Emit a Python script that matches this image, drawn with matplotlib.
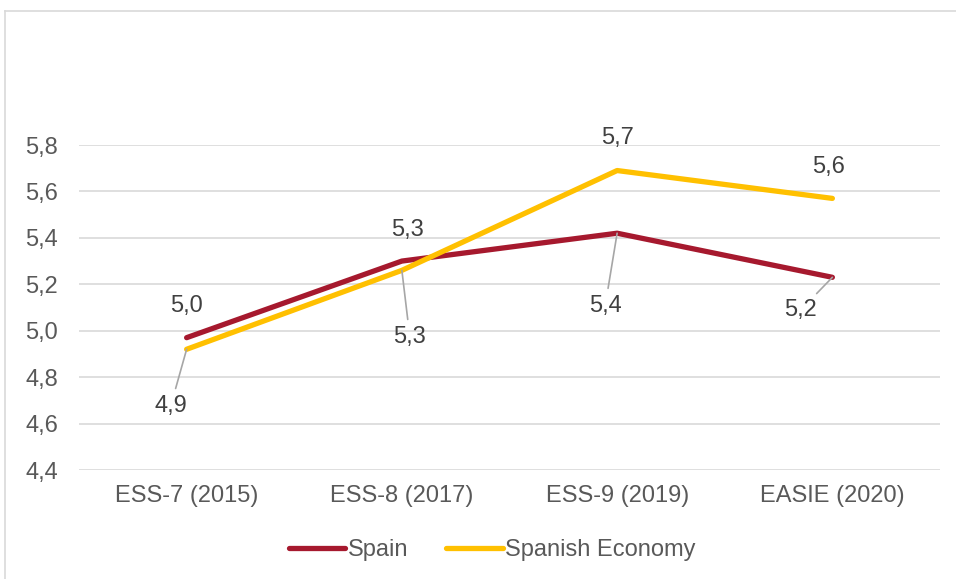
import matplotlib
matplotlib.use('Agg')
import matplotlib.pyplot as plt
from matplotlib.lines import Line2D

# data
categories = ['ESS-7 (2015)', 'ESS-8 (2017)', 'ESS-9 (2019)', 'EASIE (2020)']
spain = [4.97, 5.30, 5.42, 5.23]
economy = [4.92, 5.26, 5.69, 5.57]
spain_labels = ['5,0', '5,3', '5,4', '5,2']
economy_labels = ['4,9', '5,3', '5,7', '5,6']
yticks = [4.4, 4.6, 4.8, 5.0, 5.2, 5.4, 5.6, 5.8]

plt.rcParams['font.family'] = ['Liberation Sans', 'DejaVu Sans']

fig = plt.figure(figsize=(9.56, 5.79), dpi=100)
ax = fig.add_axes([79/956, 1 - 470/579, (940 - 79)/956, (470 - 145)/579])

red = '#A6192E'
gold = '#FFC000'
x = list(range(len(categories)))
ax.plot(x, spain, color=red, lw=3.8, solid_capstyle='round', solid_joinstyle='round', label='Spain', zorder=3)
ax.plot(x, economy, color=gold, lw=3.8, solid_capstyle='round', solid_joinstyle='round', label='Spanish Economy', zorder=3)

ax.set_xlim(-0.5, 3.5)
ax.set_ylim(4.4, 5.8)
ax.set_yticks(yticks)
ax.set_yticklabels([f'{v:.1f}'.replace('.', ',') for v in yticks])
ax.set_xticks(x)
ax.set_xticklabels(categories)
ax.grid(axis='y', color='#D9D9D9', lw=1.2)
ax.set_axisbelow(True)
for s in ax.spines.values():
    s.set_visible(False)
ax.tick_params(length=0, labelsize=17, colors='#595959')
ax.tick_params(axis='y', pad=15)
ax.tick_params(axis='x', pad=11)

# label offsets in pixels, True = leader line
spain_off = [(0, 32, False), (6, 31, False), (-12, -73, True), (-32, -33, True)]
econ_off = [(-16, -57, True), (8, -67, True), (0, 33, False), (-4, 31, False)]

def put_labels(vals, labels, offs):
    for i, (v, t, (dx, dy, lead)) in enumerate(zip(vals, labels, offs)):
        kw = {}
        if lead:
            kw['arrowprops'] = dict(arrowstyle='-', color='#A6A6A6', lw=1.2, shrinkA=3, shrinkB=0)
        ax.annotate(t, (i, v), xytext=(dx, dy), textcoords='offset pixels',
                    ha='center', va='center', fontsize=17, color='#404040', zorder=4, **kw)

put_labels(spain, spain_labels, spain_off)
put_labels(economy, economy_labels, econ_off)

leg = ax.legend(loc='center', bbox_to_anchor=(492/956, 1 - 550/579), bbox_transform=fig.transFigure,
                ncol=2, frameon=False, fontsize=17, handlelength=2.4, handletextpad=0.1,
                columnspacing=1.6)
for h in leg.get_lines():
    h.set_linewidth(3.8)
for t in leg.get_texts():
    t.set_color('#595959')

# chart frame (left and top edges visible)
fig.add_artist(Line2D([4.5/956, 4.5/956], [0, 1 - 11/579], color='#D9D9D9', lw=1.2))
fig.add_artist(Line2D([4.5/956, 1], [1 - 11/579, 1 - 11/579], color='#D9D9D9', lw=1.2))

fig.savefig('out.png', dpi=100, facecolor='white')
